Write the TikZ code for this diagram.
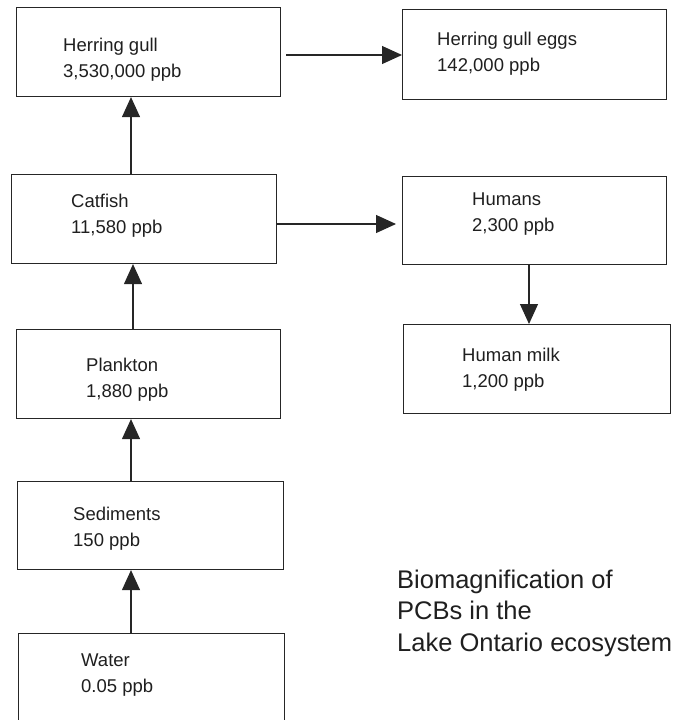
\documentclass[tikz,border=0pt]{standalone}
\usepackage{fontspec}
\setmainfont{Liberation Sans}
\usetikzlibrary{arrows.meta}
\begin{document}
\begin{tikzpicture}[x=1pt,y=-1pt,
  box/.style={draw=black!85, line width=1.1pt, rectangle, inner sep=0pt, anchor=north west},
  txt/.style={inner sep=0pt, anchor=base west, align=left, text=black!88, font=\fontsize{18.5}{26}\selectfont},
  arr/.style={draw=black!85, line width=1.1pt, -{Triangle[length=20pt,width=18pt]}},
  ttl/.style={inner sep=0pt, anchor=base west, align=left, text=black!88, font=\fontsize{25.5}{31.5}\selectfont}]
\useasboundingbox (0,0) rectangle (676,720);
\clip (0,0) rectangle (676,720);
% boxes
\node[box, minimum width=264pt, minimum height=89pt] (gull) at (16,7) {};
\node[box, minimum width=264pt, minimum height=90pt] (eggs) at (402,9) {};
\node[box, minimum width=265pt, minimum height=89pt] (catfish) at (11,174) {};
\node[box, minimum width=264pt, minimum height=88pt] (humans) at (402,176) {};
\node[box, minimum width=267pt, minimum height=89pt] (milk) at (403,324) {};
\node[box, minimum width=264pt, minimum height=89pt] (plankton) at (16,329) {};
\node[box, minimum width=266pt, minimum height=88pt] (sediments) at (17,481) {};
\node[box, minimum width=266pt, minimum height=100pt] (water) at (18,633) {};
% texts (anchor = baseline of the last line)
\node[txt] (gullT) at (63,77) {Herring gull\\3,530,000 ppb};
\node[txt] (eggsT) at (437,71) {Herring gull eggs\\142,000 ppb};
\node[txt] (catfishT) at (71,233) {Catfish\\11,580 ppb};
\node[txt] (humansT) at (472,231) {Humans\\2,300 ppb};
\node[txt] (milkT) at (462,387) {Human milk\\1,200 ppb};
\node[txt] (planktonT) at (86,397) {Plankton\\1,880 ppb};
\node[txt] (sedimentsT) at (73,546) {Sediments\\150 ppb};
\node[txt] (waterT) at (81,692) {Water\\0.05 ppb};
\node[ttl] (title) at (397,651) {Biomagnification of\\PCBs in the\\Lake Ontario ecosystem};
% connectors
\coordinate (cA) at (131,0);
\coordinate (cB) at (133,0);
\coordinate (cC) at (529,0);
\coordinate (rA) at (0,55);
\coordinate (rB) at (0,224);
\draw[arr] (catfish.north -| cA) -- (gull.south -| cA);
\draw[arr] (plankton.north -| cB) -- (catfish.south -| cB);
\draw[arr] (sediments.north -| cA) -- (plankton.south -| cA);
\draw[arr] (water.north -| cA) -- (sediments.south -| cA);
\draw[arr, shorten <=5pt] (gull.east |- rA) -- (eggs.west |- rA);
\draw[arr, shorten >=6pt] (catfish.east |- rB) -- (humans.west |- rB);
\draw[arr] (humans.south -| cC) -- (milk.north -| cC);
\end{tikzpicture}
\end{document}
